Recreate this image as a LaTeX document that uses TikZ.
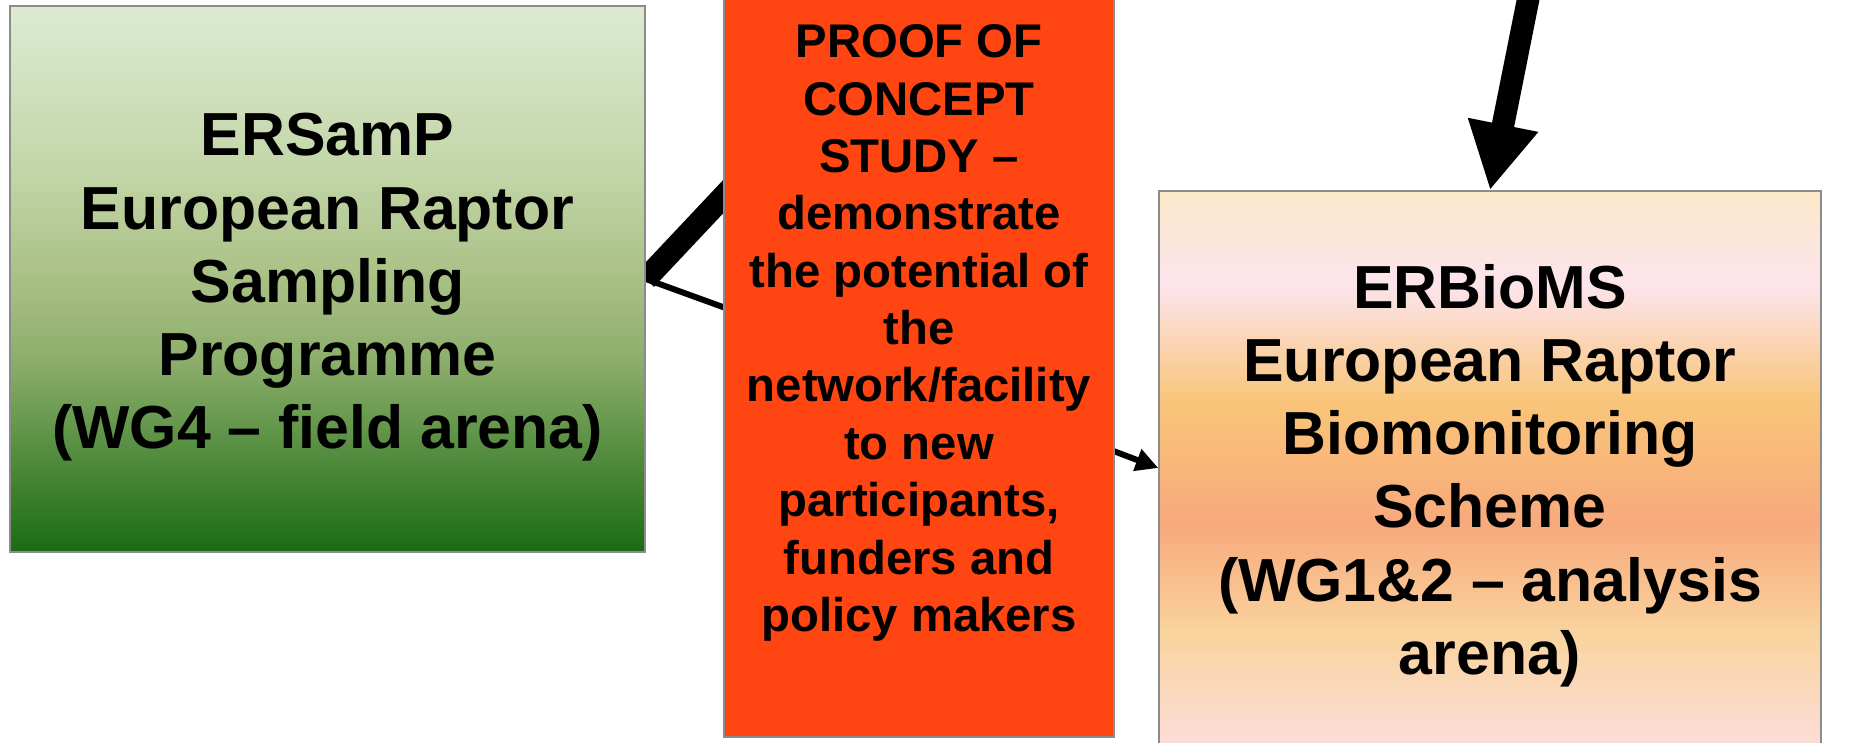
\documentclass[tikz,border=0pt]{standalone}
\usepackage{fontspec}
\setmainfont{Liberation Sans}
\usetikzlibrary{arrows.meta,calc}
\pgfdeclarelayer{bg}
\pgfsetlayers{bg,main}
\definecolor{boxgray}{HTML}{8C8C8C}
\definecolor{pocred}{HTML}{FF4511}
\definecolor{gA}{HTML}{DDEAD2}
\definecolor{gB}{HTML}{C3D6A8}
\definecolor{gC}{HTML}{A9C085}
\definecolor{gD}{HTML}{8CAE6B}
\definecolor{gE}{HTML}{5A9144}
\definecolor{gF}{HTML}{1A6B15}
\definecolor{sA}{HTML}{FAE8C9}
\definecolor{sB}{HTML}{FCE4EC}
\definecolor{sC}{HTML}{F9C579}
\definecolor{sD}{HTML}{F8A97C}
\definecolor{sE}{HTML}{F9D49E}
\definecolor{sF}{HTML}{FCDDD8}
\pgfdeclareverticalshading{greenshade}{100bp}{color(0bp)=(gF); color(25bp)=(gF); color(35bp)=(gE); color(42.5bp)=(gD); color(50bp)=(gC); color(60bp)=(gB); color(75bp)=(gA); color(100bp)=(gA)}
\pgfdeclareverticalshading{sunshade}{100bp}{color(0bp)=(sF); color(25bp)=(sF); color(35bp)=(sE); color(45bp)=(sD); color(56bp)=(sC); color(66.5bp)=(sB); color(75bp)=(sA); color(100bp)=(sA)}
\tikzset{
  box/.style={draw=boxgray, line width=0.85pt, inner sep=0pt},
  bigtext/.style={font=\fontsize{34.6pt}{41.7pt}\selectfont\bfseries, align=center, inner sep=0pt},
  redtext/.style={font=\fontsize{26.9pt}{32.65pt}\selectfont\bfseries, align=center, inner sep=0pt},
  thickline/.style={line width=13pt},
  thinline/.style={line width=3.4pt},
  bigarrow/.style={line width=12.8pt, -{Triangle[length=38pt,width=38pt]}},
  smallarrow/.style={line width=3.4pt, -{Triangle[length=12.8pt,width=12.5pt]}}
}
\begin{document}
\begin{tikzpicture}[x=0.02cm, y=-0.02cm]
\useasboundingbox (0,0) rectangle (1854,743);
\begin{pgfonlayer}{bg}
\fill[white] (0,0) rectangle (1854,743);
\end{pgfonlayer}
\node[box, shade, shading=greenshade, minimum width=12.7cm, minimum height=10.92cm] (lb) at (327.5,279) {};
\node[box, fill=pocred, minimum width=7.8cm, minimum height=16.28cm] (pb) at (919,330) {};
\node[box, shade, shading=sunshade, minimum width=13.24cm, minimum height=11.08cm] (rb) at (1490,468) {};
\node[bigtext] (lbt) at ($(lb.center)+(0,8.5)$) {ERSamP\\European Raptor\\Sampling\\Programme\\(WG4 – field arena)};
\node[bigtext] (rbt) at ($(rb.center)+(0,7.5)$) {ERBioMS\\European Raptor\\Biomonitoring\\Scheme\\(WG1\&2 – analysis\\arena)};
\node[redtext] (pbt) at (919,333) {PROOF OF\\CONCEPT\\STUDY –\\demonstrate\\the potential of\\the\\network/facility\\to new\\participants,\\funders and\\policy makers};
\coordinate (c1) at (780,136.3);
\coordinate (c2) at (800,335);
\coordinate (c3) at (1532,-20);
\coordinate (c4) at (1000,408);
\begin{pgfonlayer}{bg}
\draw[thickline] (lb.east) -- (c1);
\draw[thinline] (lb.east) -- (c2);
\draw[smallarrow] (c4) -- (rb.west);
\draw[bigarrow] (c3) -- (rb.north);
\end{pgfonlayer}
\end{tikzpicture}
\end{document}
